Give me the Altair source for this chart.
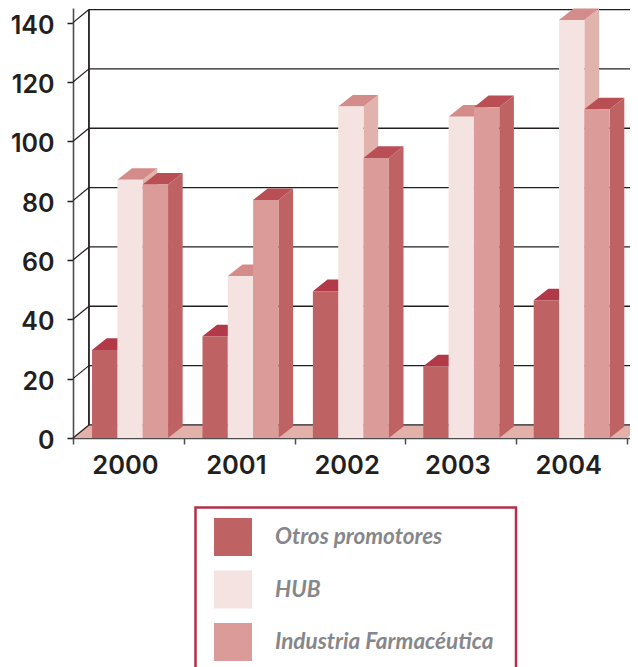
import altair as alt
import pandas as pd

years = [2000, 2001, 2002, 2003, 2004]
series = ["Otros promotores", "HUB", "Industria Farmacéutica"]
otros = [29.7, 34.3, 49.5, 24.2, 46.4]
hub = [87.0, 54.6, 111.7, 108.3, 140.9]
industria = [85.4, 80.2, 94.4, 111.5, 110.8]
values = [otros, hub, industria]
y_ticks = [0, 20, 40, 60, 80, 100, 120, 140]

front = ["#bf6264", "#f4e3e0", "#da9b99"]
side = ["#bf6264", "#e2b3ac", "#bf6264"]
top = ["#b23a48", "#d48c8a", "#b94f55"]
FLOOR = "#e1b1aa"
INK = "#231f20"
AXIS = "#4d4d4f"
BOX = "#b3304a"

W, H = 557, 430
XMAX = W / 110.8
YMAX = H / 2.967
x_scale = alt.Scale(domain=[0, XMAX], nice=False, zero=False)
y_scale = alt.Scale(domain=[0, YMAX], nice=False, zero=False)

BAR_START, BAR_W, GROUP_STEP = 0.172, 0.2286, 0.9965
BAR_DX, BAR_DY = 0.132, 3.9
WALL_DX, WALL_DY = 0.144, 4.4

x_axis = alt.Axis(
    values=list(range(6)), labelExpr="datum.value < 5 ? '' + (2000 + datum.value) : ''",
    labelOffset=52, labelPadding=9, tickSize=6, tickWidth=1.5, tickColor=AXIS,
    domainColor=AXIS, domainWidth=1.6, labelFont="Inter", labelFontSize=25.5,
    labelFontWeight=600, labelColor=INK, grid=False, labelFlush=False,
    labelOverlap=False, labelBound=False, title=None,
)
y_axis = alt.Axis(
    values=y_ticks, labelOffset=2.5, labelPadding=13, tickSize=6, tickWidth=1.5,
    tickColor=INK, domainColor=AXIS, domainWidth=1.6, labelFont="Inter",
    labelFontSize=25, labelFontWeight=600, labelColor=INK, grid=False,
    labelOverlap=False, labelBound=False, title=None,
)


def x_enc(field="x"):
    return alt.X(f"{field}:Q", scale=x_scale, axis=x_axis)


def y_enc(field="y"):
    return alt.Y(f"{field}:Q", scale=y_scale, axis=y_axis)


def top_face(key, xl, xr, val, dx, dy):
    return [
        dict(key=key, x=xl, y=val, y2=val),
        dict(key=key, x=xl + dx, y=val, y2=val + dy),
        dict(key=key, x=xr, y=val, y2=val + dy),
        dict(key=key, x=xr + dx, y=val + dy, y2=val + dy),
    ]


floor_df = pd.DataFrame(top_face("floor", 0, 5, 0, WALL_DX, WALL_DY))
floor = alt.Chart(floor_df).mark_area(color=FLOOR, orient="vertical", clip=True).encode(
    x=x_enc(), y=y_enc(), y2="y2:Q"
)

ticks_df = pd.DataFrame({"v": y_ticks})
ticks_df["back"] = ticks_df["v"] + WALL_DY
ticks_df["x0"] = 0.0
ticks_df["x1"] = WALL_DX
ticks_df["xe"] = XMAX
grid_lines = alt.Chart(ticks_df).mark_rule(color=INK, strokeWidth=1.3).encode(
    x=x_enc("x1"), x2="xe:Q", y=y_enc("back"),
)
diagonals = alt.Chart(ticks_df).mark_rule(color=INK, strokeWidth=1.2).encode(
    x=x_enc("x0"), x2="x1:Q", y=y_enc("v"), y2="back:Q",
)
wall_df = pd.DataFrame({"x": [WALL_DX], "y": [WALL_DY], "y2": [y_ticks[-1] + WALL_DY]})
wall = alt.Chart(wall_df).mark_rule(color=INK, strokeWidth=1.8).encode(
    x=x_enc(), y=y_enc(), y2="y2:Q"
)

color_scale = alt.Scale(domain=series, range=front)
layers = [floor, grid_lines, diagonals, wall]
for k, name in enumerate(series):
    side_rows, top_rows, front_rows = [], [], []
    for i, year in enumerate(years):
        xl = i * GROUP_STEP + BAR_START + k * BAR_W
        xr = xl + BAR_W
        v = values[k][i]
        side_rows += [
            dict(key=year, x=xr, y=v, y2=0),
            dict(key=year, x=xr + BAR_DX, y=v + BAR_DY, y2=BAR_DY),
        ]
        top_rows += top_face(year, xl, xr, v, BAR_DX, BAR_DY)
        front_rows.append(dict(x=xl, x2=xr, y=v, y2=0, Serie=name))
    layers.append(
        alt.Chart(pd.DataFrame(side_rows)).mark_area(color=side[k], orient="vertical").encode(
            x=x_enc(), y=y_enc(), y2="y2:Q", detail="key:N"
        )
    )
    layers.append(
        alt.Chart(pd.DataFrame(top_rows)).mark_area(color=top[k], orient="vertical").encode(
            x=x_enc(), y=y_enc(), y2="y2:Q", detail="key:N"
        )
    )
    layers.append(
        alt.Chart(pd.DataFrame(front_rows)).mark_rect().encode(
            x=x_enc(), x2="x2:Q", y=y_enc(), y2="y2:Q",
            color=alt.Color(
                "Serie:N", scale=color_scale, sort=series, title=None,
                legend=alt.Legend(
                    orient="none", legendX=141, legendY=510, symbolType="square",
                    symbolSize=1444, symbolStrokeWidth=0, symbolOpacity=1, labelOffset=23,
                    rowPadding=14.5, labelFont="Lato", labelFontSize=22.5, labelFontWeight=700,
                    labelFontStyle="italic", labelColor="#86878b", labelLimit=300, padding=0,
                ),
            ),
        )
    )

legend_box = alt.Chart(alt.Data(values=[{}])).mark_rect(
    fill="transparent", stroke=BOX, strokeWidth=2.5
).encode(
    x=alt.value(122.5), x2=alt.value(443), y=alt.value(499.5), y2=alt.value(680)
)
layers.append(legend_box)

chart = (
    alt.layer(*layers)
    .resolve_scale(color="shared")
    .properties(
        width=W, height=H,
        autosize=alt.AutoSizeParams(type="none"),
        padding={"left": 65, "top": 0, "right": 0, "bottom": 229},
    )
    .configure_view(stroke=None)
)
chart.save("out.html", embed_options={"renderer": "svg", "actions": False})
